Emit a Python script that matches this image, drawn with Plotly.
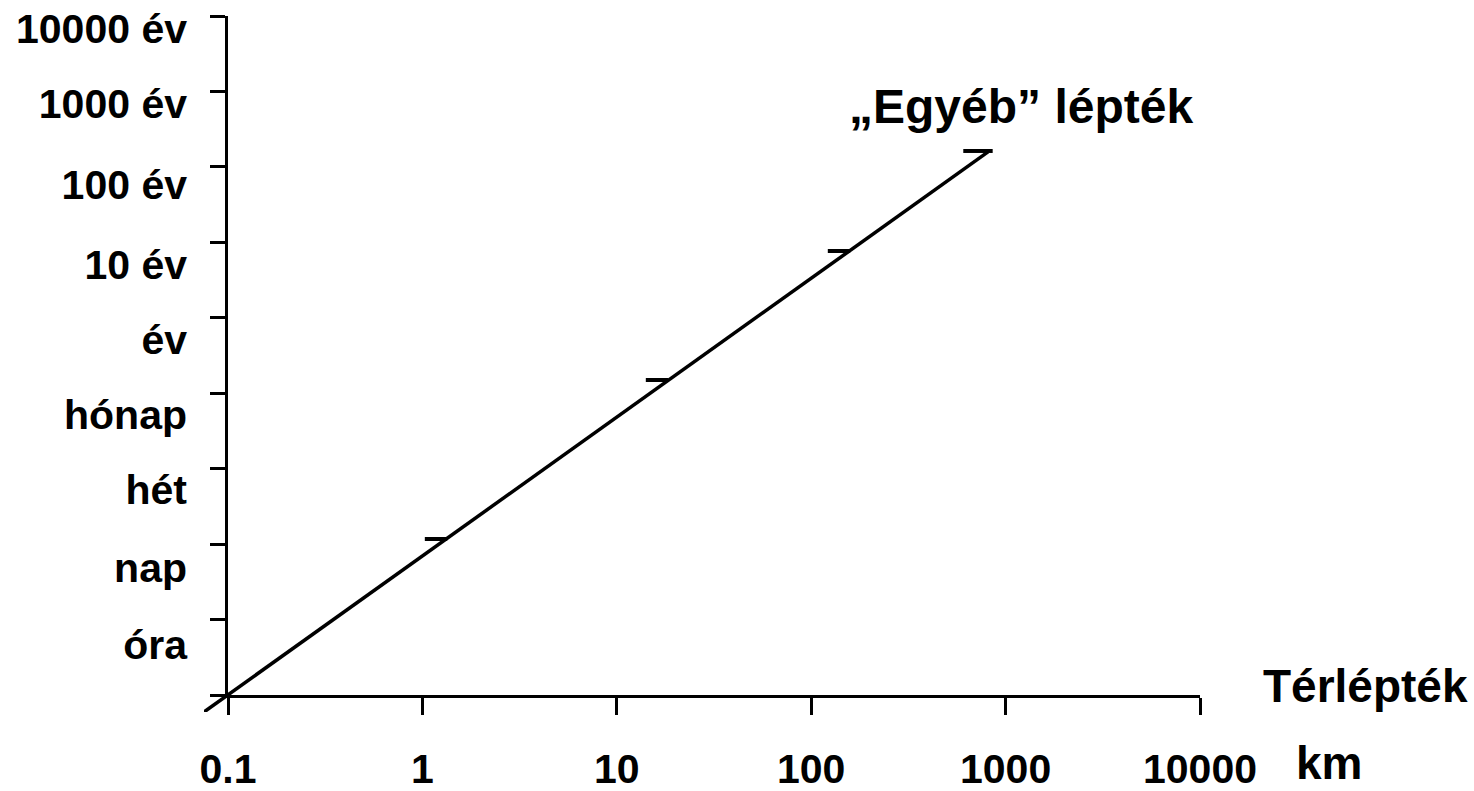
import plotly.graph_objects as go

# ---- data ----
dist_ticks = [0.1, 1, 10, 100, 1000, 10000]
dist_labels = ["0.1", "1", "10", "100", "1000", "10000"]
time_ticks = [0, 1, 2, 3, 4, 5, 6, 7, 8, 9]
time_labels = ["óra", "nap", "hét", "hónap", "év", "10 év", "100 év", "1000 év", "10000 év"]
time_label_pos = [0.663, 1.683, 2.717, 3.711, 4.706, 5.70, 6.76, 7.834, 8.828]

line_x = [0.0752, 812]
line_y = [-0.2257, 7.198]

mark_x = [1.175, 16.1, 139, 721]
mark_y = [2.068, 4.175, 5.885, 7.211]
mark_size = [16, 16, 16, 21]

# ---- geometry (screen pixels; body margin removed by post_script) ----
W, H = 1474, 791


def fx(px):
    return px / W


def fy(py):
    return (H - py) / H


px_l, px_r, px_t, px_b = 228, 1200, 16, 695
ext_l, ext_b = 204, 712
dec_px = (px_r - px_l) / 5.0
unit_px = (px_b - px_t) / 9.0

FONT = "Liberation Sans, Arial, sans-serif"

fig = go.Figure()

fig.add_trace(go.Scatter(x=[0.1], y=[0], xaxis="x", yaxis="y", mode="markers",
                         marker=dict(opacity=0), showlegend=False, hoverinfo="skip"))
fig.add_trace(go.Scatter(x=[0.1], y=[0], xaxis="x", yaxis="y2", mode="markers",
                         marker=dict(opacity=0), showlegend=False, hoverinfo="skip"))

fig.add_trace(go.Scatter(x=line_x, y=line_y, xaxis="x3", yaxis="y3", mode="lines",
                         line=dict(color="black", width=3.5), showlegend=False))
fig.add_trace(go.Scatter(x=mark_x, y=mark_y, xaxis="x3", yaxis="y3", mode="markers",
                         marker=dict(symbol="line-ew", size=mark_size, color="black",
                                     opacity=1,
                                     line=dict(color="black", width=4)),
                         showlegend=False))

dom_x = [fx(px_l), fx(px_r)]
dom_y = [fy(px_b), fy(px_t)]

fig.update_layout(
    width=W, height=H,
    margin=dict(l=0, r=0, t=0, b=0, autoexpand=False),
    paper_bgcolor="white", plot_bgcolor="rgba(0,0,0,0)",
    showlegend=False,
    xaxis=dict(type="log", range=[-1, 4], domain=dom_x, anchor="y", automargin=False,
               showline=True, linecolor="black", linewidth=3,
               showgrid=False, zeroline=False,
               ticks="outside", ticklen=17, tickwidth=3, tickcolor="black",
               tickvals=dist_ticks, ticktext=dist_labels,
               ticklabelstandoff=19, ticklabeloverflow="allow",
               tickfont=dict(family=FONT, size=41, color="black", weight="bold")),
    yaxis=dict(range=[0, 9], domain=dom_y, anchor="x", automargin=False,
               showline=True, linecolor="black", linewidth=3,
               showgrid=False, zeroline=False,
               ticks="outside", ticklen=15, tickwidth=3, tickcolor="black",
               tickvals=time_ticks, showticklabels=False),
    yaxis2=dict(range=[0, 9], overlaying="y", anchor="x", side="left", automargin=False,
                showline=False, showgrid=False, zeroline=False, ticks="",
                tickvals=time_label_pos, ticktext=time_labels,
                ticklabelstandoff=40, ticklabeloverflow="allow",
                tickfont=dict(family=FONT, size=41, color="black", weight="bold")),
    xaxis3=dict(type="log", automargin=False,
                range=[-1 - (px_l - ext_l) / dec_px, 4],
                domain=[fx(ext_l), fx(px_r)], anchor="y3",
                visible=False),
    yaxis3=dict(range=[-(ext_b - px_b) / unit_px, 9], automargin=False,
                domain=[fy(ext_b), fy(px_t)], anchor="x3",
                visible=False),
    annotations=[
        dict(text="„Egyéb” lépték", xref="paper", yref="paper",
             x=fx(1021), y=fy(107), xanchor="center", yanchor="middle",
             showarrow=False,
             font=dict(family=FONT, size=48, color="black", weight="bold")),
        dict(text="Térlépték", xref="paper", yref="paper",
             x=fx(1365), y=fy(686), xanchor="center", yanchor="middle",
             showarrow=False,
             font=dict(family=FONT, size=46, color="black", weight="bold")),
        dict(text="km", xref="paper", yref="paper",
             x=fx(1329), y=fy(763), xanchor="center", yanchor="middle",
             showarrow=False,
             font=dict(family=FONT, size=46, color="black", weight="bold")),
    ],
)

fig.write_html("out.html",
               config={"displayModeBar": False},
               post_script="document.body.style.margin='0';document.body.style.overflow='hidden';")
